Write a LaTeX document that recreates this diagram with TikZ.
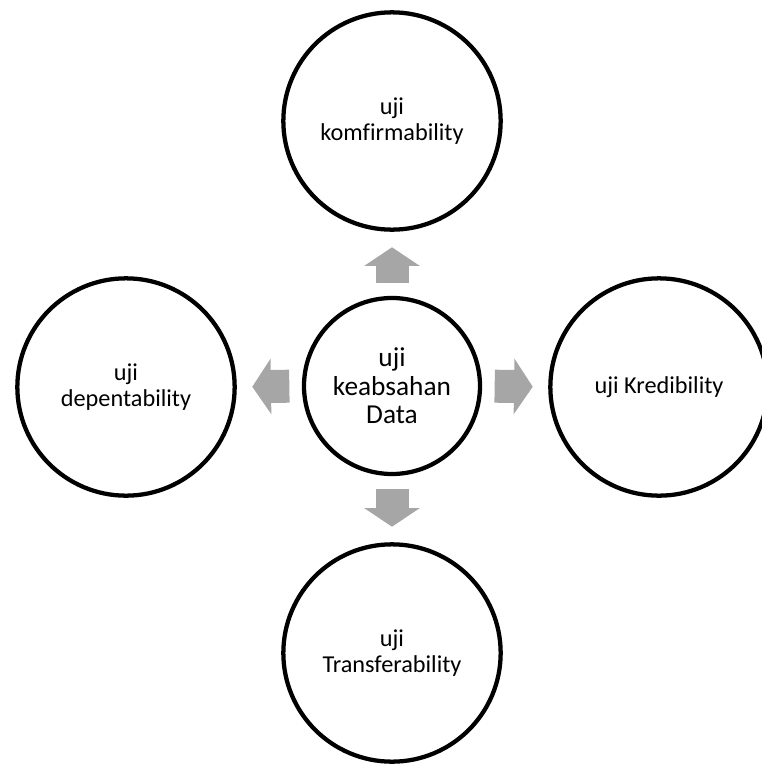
\documentclass[tikz,border=0pt]{standalone}
\usepackage{fontspec}
\setmainfont{Carlito}[Ligatures=NoCommon]
\usetikzlibrary{arrows.meta}
\definecolor{arrowgray}{RGB}{166,166,166}

\begin{document}
\begin{tikzpicture}[x=0.75pt, y=-0.75pt,
      outer/.style={circle, draw, line width=3.2pt, minimum size=163pt, align=center,
         font=\fontsize{18.2}{19.8}\selectfont},
      inner/.style={circle, draw, line width=3.2pt, minimum size=132pt, align=center,
         font=\fontsize{20.5}{21.5}\selectfont},
      blockarrow/.style={draw=arrowgray, line width=24.75pt,
         -{Triangle[width=41pt, length=14pt]}, arrowgray,
         shorten <=9.4pt, shorten >=11.6pt}]
      \clip (0, 0) rectangle (762, 764);

      \node[inner] (data) at (392, 386) {uji\\keabsahan\\Data};
      \node[outer] (komfir) at (392, 121) {uji\\komfirmability};
      \node[outer] (depen) at (126, 387) {uji\\depentability};
      \node[outer] (kred) at (659, 387) {uji Kredibility};
      \node[outer] (trans) at (392, 653) {uji\\Transferability};

      \draw [blockarrow] (data.north) -- (komfir.south);
      \draw [blockarrow] (data.west) -- (depen.east);
      \draw [blockarrow] (data.east) -- (kred.west);
      \draw [blockarrow] (data.south) -- (trans.north);

   \end{tikzpicture}
\end{document}
